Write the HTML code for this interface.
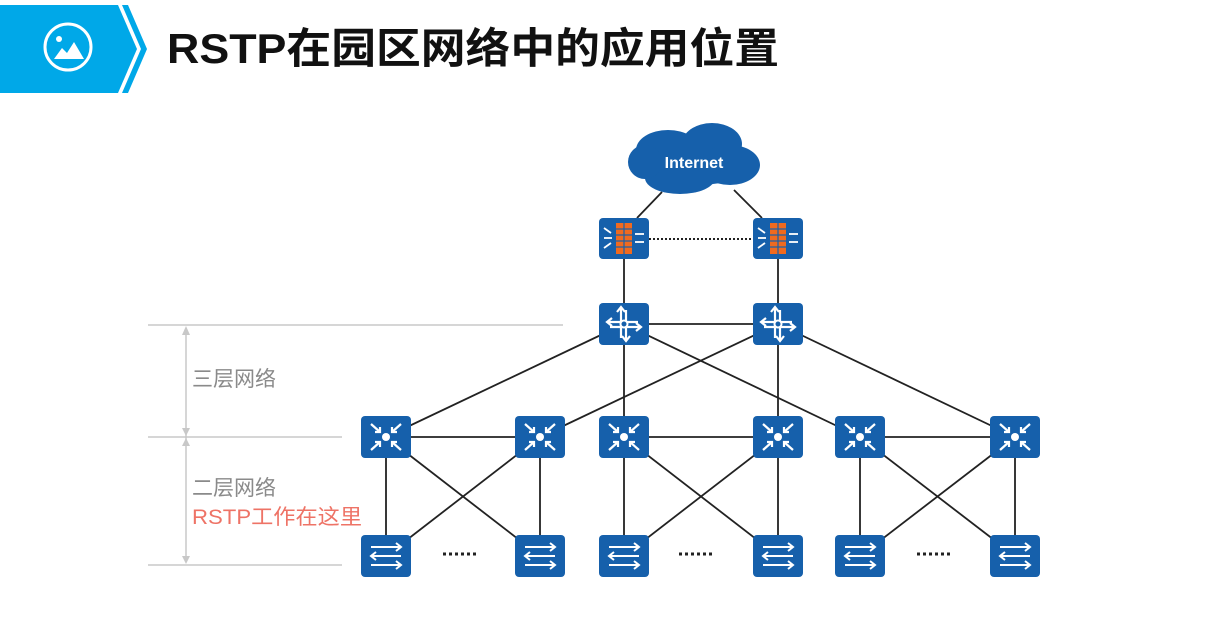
<!DOCTYPE html>
<html><head><meta charset="utf-8"><style>
html,body{margin:0;padding:0;background:#fff;}
svg{display:block;}
</style></head><body>
<svg width="1218" height="626" viewBox="0 0 1218 626" xmlns="http://www.w3.org/2000/svg">
<defs>
<g id="fw">
  <rect x="-25" y="-20" width="50" height="41" rx="4" fill="#1660ab"/>
  <rect x="-8" y="-15" width="16" height="31" fill="#f06a1f"/>
  <g stroke="#1660ab" stroke-width="1.2"><line x1="-8" y1="-9" x2="8" y2="-9"/><line x1="-8" y1="-3" x2="8" y2="-3"/><line x1="-8" y1="3" x2="8" y2="3"/><line x1="-8" y1="9" x2="8" y2="9"/><line x1="0" y1="-15" x2="0" y2="16"/></g>
  <g stroke="#fff" stroke-width="1.8" fill="none"><line x1="-20" y1="-10" x2="-13" y2="-5"/><line x1="-20" y1="0" x2="-12" y2="0"/><line x1="-20" y1="10" x2="-13" y2="5"/><line x1="11" y1="-4" x2="20" y2="-4"/><line x1="11" y1="4" x2="20" y2="4"/></g>
</g>
<g id="rt">
  <rect x="-25" y="-21" width="50" height="42" rx="4" fill="#1660ab"/>
  <g stroke="#fff" stroke-width="2.2" fill="none"><line x1="-16" y1="-2" x2="14" y2="-2"/><line x1="-14" y1="3" x2="16" y2="3"/><line x1="-3" y1="-16" x2="-3" y2="14"/><line x1="2" y1="-14" x2="2" y2="16"/>
  <polyline points="-12,-6 -17,-2 -12,2"/><polyline points="12,-1 17,3 12,7"/><polyline points="-7,-12 -3,-17 1,-12"/><polyline points="-2,12 2,17 6,12"/></g>
  <circle cx="0" cy="0" r="3.5" fill="#1660ab" stroke="#fff" stroke-width="2"/>
</g>
<g id="ag">
  <rect x="-25" y="-21" width="50" height="42" rx="4" fill="#1660ab"/>
  <circle cx="0" cy="0" r="4" fill="#fff"/>
  <g stroke="#fff" stroke-width="2.2" fill="none"><line x1="-15" y1="-13" x2="-6" y2="-5"/><polyline points="-11,-5 -6,-5 -6,-10"/><line x1="15" y1="-13" x2="6" y2="-5"/><polyline points="11,-5 6,-5 6,-10"/><line x1="-15" y1="13" x2="-6" y2="5"/><polyline points="-11,5 -6,5 -6,10"/><line x1="15" y1="13" x2="6" y2="5"/><polyline points="11,5 6,5 6,10"/></g>
</g>
<g id="ac">
  <rect x="-25" y="-21" width="50" height="42" rx="4" fill="#1660ab"/>
  <g stroke="#fff" stroke-width="2" fill="none"><line x1="-15" y1="-9" x2="15" y2="-9"/><polyline points="10,-13 15,-9 10,-5"/><line x1="-15" y1="0" x2="15" y2="0"/><polyline points="-10,-4 -15,0 -10,4"/><line x1="-15" y1="9" x2="15" y2="9"/><polyline points="10,5 15,9 10,13"/></g>
</g>
</defs>
<!-- header -->
<polygon points="0,5 118,5 137,49 118,93 0,93" fill="#00a8e8"/>
<polygon points="122,5 128,5 147,49 128,93 122,93 141,49" fill="#00a8e8"/>
<circle cx="68" cy="47" r="23" fill="none" stroke="#fff" stroke-width="3"/>
<circle cx="59" cy="39" r="3" fill="#fff"/>
<polygon points="54,59 62,48 67,53 74,42 84,59" fill="#fff"/>
<text x="167" y="63" font-family="Liberation Sans, Noto Sans CJK SC, sans-serif" font-weight="bold" font-size="42" fill="#111" textLength="612" lengthAdjust="spacingAndGlyphs">RSTP在园区网络中的应用位置</text>
<!-- left scale -->
<g stroke="#c8c8c8" stroke-width="1.5"><line x1="148" y1="325" x2="563" y2="325"/><line x1="148" y1="437" x2="342" y2="437"/><line x1="148" y1="565" x2="342" y2="565"/><line x1="186" y1="330" x2="186" y2="560"/></g>
<g fill="#c8c8c8"><polygon points="186,326 182,335 190,335"/><polygon points="186,436 182,428 190,428"/><polygon points="186,438 182,446 190,446"/><polygon points="186,564 182,556 190,556"/></g>
<g font-family="Liberation Sans, Noto Sans CJK SC, sans-serif" font-size="21"><text x="192" y="386" fill="#8a8a8a">三层网络</text><text x="192" y="495" fill="#8a8a8a">二层网络</text><text x="192" y="524" fill="#ee7366" textLength="170" lengthAdjust="spacingAndGlyphs">RSTP工作在这里</text></g>
<!-- lines -->
<g stroke="#222" stroke-width="1.8">
<line x1="662" y1="192" x2="637" y2="218"/><line x1="734" y1="190" x2="762" y2="218"/>
<line x1="624" y1="238" x2="624" y2="324"/><line x1="778" y1="238" x2="778" y2="324"/>
<line x1="624" y1="324" x2="778" y2="324"/>
<line x1="624" y1="324" x2="386" y2="437"/><line x1="624" y1="324" x2="624" y2="437"/><line x1="624" y1="324" x2="860" y2="437"/>
<line x1="778" y1="324" x2="540" y2="437"/><line x1="778" y1="324" x2="778" y2="437"/><line x1="778" y1="324" x2="1015" y2="437"/>
<line x1="386" y1="437" x2="540" y2="437"/><line x1="624" y1="437" x2="778" y2="437"/><line x1="860" y1="437" x2="1015" y2="437"/>
<line x1="386" y1="437" x2="386" y2="556"/><line x1="386" y1="437" x2="540" y2="556"/><line x1="540" y1="437" x2="386" y2="556"/><line x1="540" y1="437" x2="540" y2="556"/>
<line x1="624" y1="437" x2="624" y2="556"/><line x1="624" y1="437" x2="778" y2="556"/><line x1="778" y1="437" x2="624" y2="556"/><line x1="778" y1="437" x2="778" y2="556"/>
<line x1="860" y1="437" x2="860" y2="556"/><line x1="860" y1="437" x2="1015" y2="556"/><line x1="1015" y1="437" x2="860" y2="556"/><line x1="1015" y1="437" x2="1015" y2="556"/>
</g>
<line x1="649" y1="239" x2="753" y2="239" stroke="#222" stroke-width="2" stroke-dasharray="2,2"/>
<g stroke="#222" stroke-width="3" stroke-dasharray="3,3"><line x1="443" y1="554" x2="476" y2="554"/><line x1="679" y1="554" x2="712" y2="554"/><line x1="917" y1="554" x2="950" y2="554"/></g>
<!-- cloud -->
<g fill="#1660ab"><ellipse cx="694" cy="163" rx="62" ry="22"/><ellipse cx="668" cy="150" rx="32" ry="20"/><ellipse cx="712" cy="144" rx="30" ry="21"/><ellipse cx="730" cy="165" rx="30" ry="20"/><ellipse cx="680" cy="178" rx="35" ry="16"/><ellipse cx="645" cy="162" rx="17" ry="17"/></g>
<text x="694" y="168" text-anchor="middle" font-family="Liberation Sans, sans-serif" font-weight="bold" font-size="16" fill="#fff">Internet</text>
<!-- nodes -->
<use href="#fw" x="624" y="238"/><use href="#fw" x="778" y="238"/>
<use href="#rt" x="624" y="324"/><use href="#rt" x="778" y="324"/>
<use href="#ag" x="386" y="437"/><use href="#ag" x="540" y="437"/><use href="#ag" x="624" y="437"/><use href="#ag" x="778" y="437"/><use href="#ag" x="860" y="437"/><use href="#ag" x="1015" y="437"/>
<use href="#ac" x="386" y="556"/><use href="#ac" x="540" y="556"/><use href="#ac" x="624" y="556"/><use href="#ac" x="778" y="556"/><use href="#ac" x="860" y="556"/><use href="#ac" x="1015" y="556"/>
</svg>
</body></html>
